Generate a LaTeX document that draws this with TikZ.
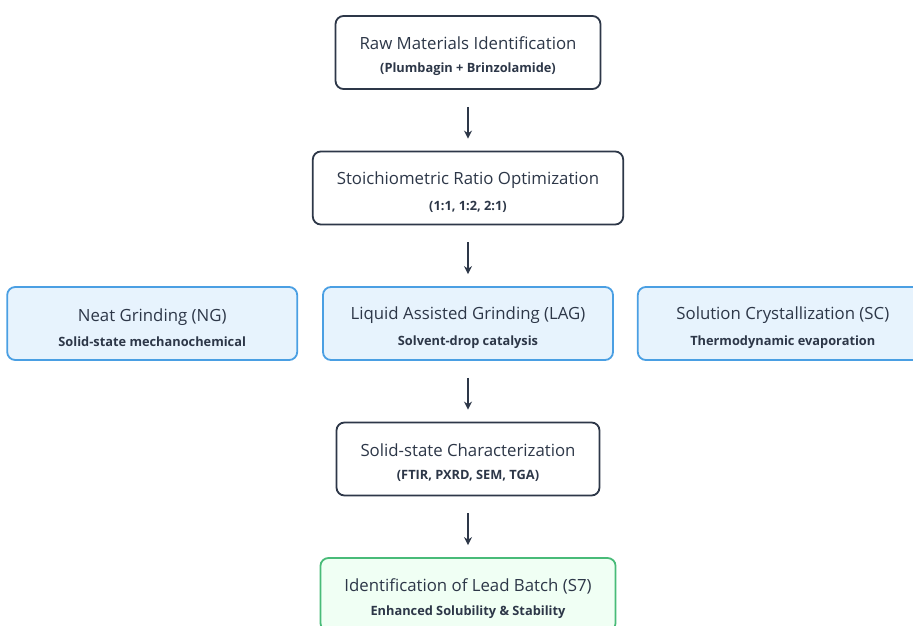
\documentclass[tikz,border=0pt]{standalone}
\usepackage{fontspec}
\setmainfont{Open Sans}
\usepackage{xcolor}
\usetikzlibrary{positioning,arrows.meta}

\definecolor{ink}{HTML}{2D3748}
\definecolor{blueline}{HTML}{4A9FE3}
\definecolor{bluefill}{HTML}{E7F3FD}
\definecolor{greenline}{HTML}{48BB78}
\definecolor{greenfill}{HTML}{F0FFF4}

\newcommand{\boxtext}[2]{{\fontsize{16.8}{20}\selectfont\rule{0pt}{21pt}#1}\\[11pt]{\bfseries\fontsize{12.8}{15}\selectfont #2}}

\begin{document}
\begin{tikzpicture}[
  x=1pt, y=-1pt,
  node distance=135.5pt,
  every node/.style={text=ink, align=center},
  stage/.style={draw=ink, fill=white, line width=1.8pt, rounded corners=8pt,
    minimum height=73pt, inner xsep=24pt},
  method/.style={stage, draw=blueline, fill=bluefill, minimum width=290pt},
  result/.style={stage, draw=greenline, fill=greenfill},
  flow/.style={->, >={Stealth[length=8pt,width=8pt]}, draw=ink, line width=1.8pt,
    shorten <=17pt, shorten >=12pt}
]
\useasboundingbox (0,0) rectangle (913,626);

\node[stage] (raw) at (468,52.5) {\boxtext{Raw Materials Identification}{(Plumbagin + Brinzolamide)}};
\node[stage] (ratio) [below of=raw] {\boxtext{Stoichiometric Ratio Optimization}{(1:1, 1:2, 2:1)}};

\node[method] (lag) [below of=ratio] {\boxtext{Liquid Assisted Grinding (LAG)}{Solvent-drop catalysis}};
\node[method] (ng)  [left=24pt of lag] {\boxtext{Neat Grinding (NG)}{Solid-state mechanochemical}};
\node[method] (sc)  [right=23pt of lag] {\boxtext{Solution Crystallization (SC)}{Thermodynamic evaporation}};

\node[stage] (char) [below of=lag] {\boxtext{Solid-state Characterization}{(FTIR, PXRD, SEM, TGA)}};
\node[result] (lead) [below of=char] {\boxtext{Identification of Lead Batch (S7)}{Enhanced Solubility \& Stability}};

\draw[flow] (raw)   -- (ratio);
\draw[flow] (ratio) -- (lag);
\draw[flow] (lag)   -- (char);
\draw[flow] (char)  -- (lead);

\end{tikzpicture}
\end{document}
